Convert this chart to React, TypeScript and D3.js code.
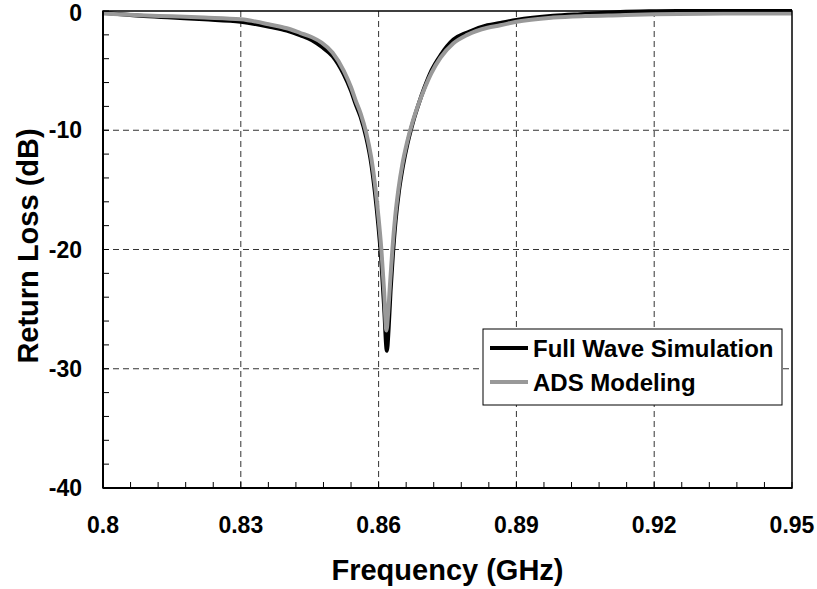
import React, { useRef, useEffect } from "react";
import * as d3 from "d3";

// frequency (GHz) / return loss (dB)
const fullWaveFreq = [
  0.8, 0.808, 0.815, 0.822, 0.83, 0.8365, 0.84, 0.843, 0.8455, 0.8476, 0.85,
  0.8524, 0.854, 0.855, 0.8561, 0.8573, 0.8584, 0.8592, 0.8599, 0.8606, 0.8612,
  0.8618, 0.8622, 0.8626, 0.8631, 0.8637, 0.8644, 0.8653, 0.8663, 0.8675, 0.8688,
  0.87, 0.8715, 0.8735, 0.8763, 0.8793, 0.8837, 0.8865, 0.89, 0.898, 0.905,
  0.9126, 0.92, 0.925, 0.935, 0.95,
];
const fullWaveDb = [
  -0.15, -0.4, -0.55, -0.7, -0.9, -1.35, -1.65, -2.05, -2.45, -3.0, -3.8,
  -5.3, -6.7, -7.8, -8.9, -10.6, -12.8, -15.2, -17.8, -21.0, -24.8,
  -28.5, -26.5, -23.5, -20.5, -17.6, -15.2, -13.0, -11.1, -9.3, -7.7,
  -6.4, -5.0, -3.7, -2.4, -1.8, -1.2, -1.0, -0.75, -0.4, -0.25,
  -0.08, -0.02, 0, 0, 0,
];

const adsFreq = [
  0.8, 0.808, 0.815, 0.822, 0.83, 0.8365, 0.84, 0.843, 0.8455, 0.8476, 0.85,
  0.8524, 0.854, 0.855, 0.8561, 0.8573, 0.8584, 0.8592, 0.8599, 0.8606, 0.8612,
  0.8617, 0.8621, 0.8625, 0.863, 0.8636, 0.8643, 0.8652, 0.8662, 0.8674, 0.8687,
  0.87, 0.8715, 0.8735, 0.8763, 0.8793, 0.8837, 0.8865, 0.89, 0.898, 0.905,
  0.9126, 0.92, 0.935, 0.95,
];
const adsDb = [
  -0.2, -0.35, -0.45, -0.55, -0.7, -1.15, -1.45, -1.85, -2.2, -2.65, -3.5,
  -5.0, -6.4, -7.5, -8.6, -10.2, -12.3, -14.5, -17.0, -20.0, -23.5,
  -26.8, -25.2, -22.8, -20.0, -17.3, -15.0, -12.8, -11.0, -9.3, -7.8,
  -6.5, -5.2, -3.9, -2.7, -2.0, -1.4, -1.2, -0.9, -0.55, -0.42,
  -0.35, -0.28, -0.22, -0.2,
];

const xTicks = [0.8, 0.83, 0.86, 0.89, 0.92, 0.95];
const yTicks = [0, -10, -20, -30, -40];
const seriesNames = ["Full Wave Simulation", "ADS Modeling"];

const App = () => {
  const svgRef = useRef<SVGSVGElement>(null);

  useEffect(() => {
    const w = 817;
    const h = 589;
    const margin = { top: 11, right: 25, bottom: 101, left: 103 };
    const font = "'Liberation Sans', Arial, sans-serif";

    const svg = d3.select(svgRef.current).attr("width", w).attr("height", h);
    svg.selectAll("*").remove();

    const x = d3.scaleLinear().domain([0.8, 0.95]).range([margin.left, w - margin.right]);
    const y = d3.scaleLinear().domain([-40, 0]).range([h - margin.bottom, margin.top]);

    svg.append("rect").attr("width", w).attr("height", h).attr("fill", "#fff");

    // dashed grid
    const grid = svg.append("g").attr("stroke", "#333").attr("stroke-width", 1).attr("stroke-dasharray", "6,4");
    xTicks.slice(1, -1).forEach((t) => {
      grid.append("line").attr("x1", x(t)).attr("x2", x(t)).attr("y1", y(0)).attr("y2", y(-40));
    });
    yTicks.slice(1, -1).forEach((t) => {
      grid.append("line").attr("x1", x(0.8)).attr("x2", x(0.95)).attr("y1", y(t)).attr("y2", y(t));
    });

    // inner ticks (minor every 0.006 GHz / 2 dB)
    const xMinor = d3.range(0, 26).map((i) => 0.8 + i * 0.006);
    const yMinor = d3.range(0, 21).map((i) => -40 + i * 2);
    const ticks = svg.append("g").attr("stroke", "#000").attr("stroke-width", 1);
    xMinor.forEach((t) => {
      ticks.append("line").attr("x1", x(t)).attr("x2", x(t)).attr("y1", y(-40)).attr("y2", y(-40) - 6);
    });
    yMinor.forEach((t) => {
      ticks.append("line").attr("x1", x(0.8)).attr("x2", x(0.8) + 6).attr("y1", y(t)).attr("y2", y(t));
    });

    // curves
    const line = d3
      .line<[number, number]>()
      .x((d) => x(d[0]))
      .y((d) => y(d[1]))
      .curve(d3.curveMonotoneX);

    const fullWave = fullWaveFreq.map((f, i) => [f, fullWaveDb[i]] as [number, number]);
    const ads = adsFreq.map((f, i) => [f, adsDb[i]] as [number, number]);

    svg.append("path").datum(fullWave).attr("d", line).attr("fill", "none")
      .attr("stroke", "#000").attr("stroke-width", 4).attr("stroke-linejoin", "round");
    svg.append("path").datum(ads).attr("d", line).attr("fill", "none")
      .attr("stroke", "#999").attr("stroke-width", 4).attr("stroke-linejoin", "round");

    // frame
    svg.append("rect")
      .attr("x", x(0.8)).attr("y", y(0))
      .attr("width", x(0.95) - x(0.8)).attr("height", y(-40) - y(0))
      .attr("fill", "none").attr("stroke", "#000").attr("stroke-width", 1.5);
    svg.append("line").attr("x1", x(0.8)).attr("x2", x(0.8)).attr("y1", y(0)).attr("y2", y(-40))
      .attr("stroke", "#000").attr("stroke-width", 2);
    svg.append("line").attr("x1", x(0.8)).attr("x2", x(0.95)).attr("y1", y(-40)).attr("y2", y(-40))
      .attr("stroke", "#000").attr("stroke-width", 2);

    // tick labels
    svg.append("g").selectAll("text").data(xTicks).enter().append("text")
      .attr("x", (d) => x(d)).attr("y", y(-40) + 45)
      .attr("text-anchor", "middle")
      .attr("font-family", font).attr("font-weight", "bold").attr("font-size", 23)
      .text((d) => String(d));
    svg.append("g").selectAll("text").data(yTicks).enter().append("text")
      .attr("x", x(0.8) - 21).attr("y", (d) => Math.max(y(d) + 8, 21))
      .attr("text-anchor", "end")
      .attr("font-family", font).attr("font-weight", "bold").attr("font-size", 23)
      .text((d) => String(d));

    // axis titles
    svg.append("text")
      .attr("x", (x(0.8) + x(0.95)) / 2).attr("y", 580)
      .attr("text-anchor", "middle")
      .attr("font-family", font).attr("font-weight", "bold").attr("font-size", 29)
      .text("Frequency (GHz)");
    svg.append("text")
      .attr("transform", `translate(38, 246) rotate(-90)`)
      .attr("text-anchor", "middle")
      .attr("font-family", font).attr("font-weight", "bold").attr("font-size", 29)
      .text("Return Loss (dB)");

    // legend
    const lg = svg.append("g").attr("transform", "translate(483, 329)");
    lg.append("rect").attr("width", 299).attr("height", 76)
      .attr("fill", "#fff").attr("stroke", "#000").attr("stroke-width", 1);
    const colors = ["#000", "#999"];
    seriesNames.forEach((name, i) => {
      const cy = 19 + i * 34;
      lg.append("line").attr("x1", 7).attr("x2", 45).attr("y1", cy).attr("y2", cy)
        .attr("stroke", colors[i]).attr("stroke-width", 4);
      lg.append("text").attr("x", 50).attr("y", cy + 9)
        .attr("font-family", font).attr("font-weight", "bold").attr("font-size", 24)
        .text(name);
    });
  }, []);

  return (
    <div style={{ position: "absolute", left: 0, top: 0 }}>
      <svg ref={svgRef} style={{ display: "block" }}></svg>
    </div>
  );
};

export default App;
